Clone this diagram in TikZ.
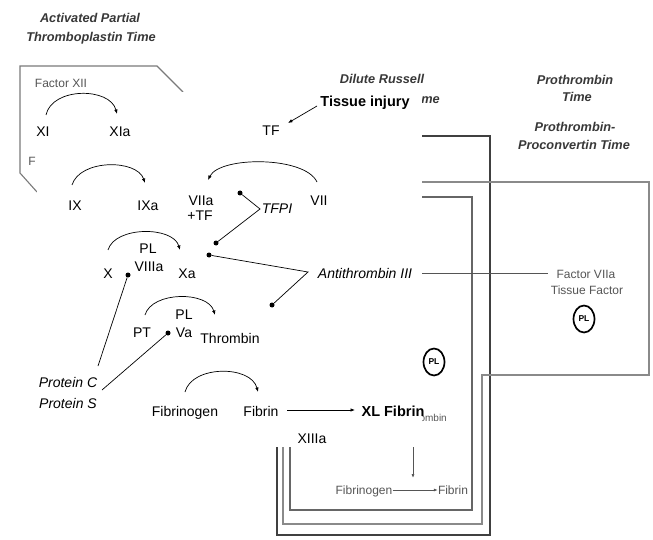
\documentclass[tikz,border=0pt]{standalone}
\usepackage{fontspec}
\setmainfont{Liberation Sans}
\usetikzlibrary{arrows.meta,shapes.geometric}
\definecolor{bgtext}{HTML}{555555}
\definecolor{ttltext}{HTML}{383838}
\definecolor{frameA}{HTML}{7A7A7A}
\definecolor{frameB}{HTML}{8A8A8A}
\definecolor{frameC}{HTML}{666666}
\definecolor{frameD}{HTML}{404040}
\begin{document}
\begin{tikzpicture}[x=1pt,y=-1pt,
  ov/.style={font=\fontsize{14}{16}\selectfont, anchor=base, inner sep=0pt},
  ovi/.style={font=\fontsize{14}{16}\selectfont\itshape, anchor=base, inner sep=0pt},
  ovb/.style={font=\fontsize{14.5}{16}\selectfont\bfseries, anchor=base, inner sep=0pt},
  bg/.style={font=\fontsize{12}{14}\selectfont, text=bgtext, anchor=base, inner sep=0pt},
  ttl/.style={font=\fontsize{12.75}{15}\selectfont\bfseries\itshape, text=ttltext, anchor=base, inner sep=0pt},
  dot/.style={circle, fill=black, inner sep=0pt, minimum size=5pt},
  ln/.style={line width=0.7pt},
  arr/.style={-{Latex[length=4.5pt,width=3.5pt]}, line width=0.7pt},
  bgarr/.style={-{Latex[length=4pt,width=3pt]}, line width=0.7pt, draw=bgtext},
  plring/.style={ellipse, draw=black, line width=1.7pt, minimum width=21pt, minimum height=27pt, inner sep=0pt,
    font=\fontsize{8.5}{9}\selectfont\bfseries}
]
\useasboundingbox (0,0) rectangle (653,540);

% ---------------- background (scanned diagram) ----------------
\node[ttl] (t1a) at (90,22.5) {Activated Partial};
\node[ttl] (t1b) at (91,41.5) {Thromboplastin Time};
\node[ttl] (t2a) at (382,84) {Dilute Russell};
\node[ttl, anchor=base east] (t2b) at (440,104) {Viper Venom Time};
\node[ttl] (t3a) at (575,84.5) {Prothrombin};
\node[ttl] (t3b) at (577,101.5) {Time};
\node[ttl] (t4a) at (575,131.5) {Prothrombin-};
\node[ttl] (t4b) at (574,149.5) {Proconvertin Time};

\node[bg] (f12) at (61,87.5) {Factor XII};
\node[bg] (fF) at (32,166) {F};

% frames
\draw[frameA, line width=1.1pt] (37,192) -- (20,173) -- (20,66) -- (157,66) -- (183,92);
\draw[frameD, line width=2pt] (400,136) -- (490,136) -- (490,535) -- (277,535) -- (277,440);
\draw[frameB, line width=1.2pt] (400,182) -- (649,182) -- (649,375) -- (482,375) -- (482,524) -- (283,524) -- (283,440);
\draw[frameC, line width=1.4pt] (400,197) -- (472,197) -- (472,510) -- (290,510) -- (290,440);

\node[bg] (f7a) at (586,278.5) {Factor VIIa};
\node[bg] (tfac) at (587,294.5) {Tissue Factor};
\coordinate (atEnd) at (548,273);
\draw[line width=0.8pt, draw=bgtext] (400,273) -- (atEnd);
\node[plring] (pl1) at (584,319) {PL};
\node[plring] (pl2) at (434,362) {PL};

\node[font=\fontsize{10}{12}\selectfont, text=bgtext, anchor=base east, inner sep=0pt] (thr2) at (447,421) {Thrombin};
\coordinate (vtop) at (413,440);
\coordinate (vbot) at (413,478);
\draw[bgarr] (vtop) -- (vbot);
\node[bg] (fbg2) at (364,494.5) {Fibrinogen};
\node[bg] (fb2) at (453,494.5) {Fibrin};
\draw[bgarr] (fbg2.east |- 0,490) -- (fb2.west |- 0,490);

% ---------------- overlay (white sheet) ----------------
\fill[white] (37,92) rectangle (422,447);

\node[ovb] (inj) at (365,107) {Tissue injury};
\node[ov] (TF) at (271,136) {TF};
\coordinate (injs) at (317,106);
\coordinate (tfe) at (288,123);
\draw[arr] (injs) -- (tfe);

\node[ov] (XI) at (43,137) {XI};
\node[ov] (XIa) at (120,137) {XIa};
\coordinate (xiS) at (46,115);
\coordinate (xiE) at (117,114);
\draw[arr] (xiS) .. controls (52,87) and (110,87) .. (xiE);

\node[ov] (IX) at (75,211) {IX};
\node[ov] (IXa) at (148,211) {IXa};
\coordinate (ixS) at (72,185);
\coordinate (ixE) at (145,183);
\draw[arr] (ixS) .. controls (80,159) and (137,159) .. (ixE);

\node[ov] (VIIa) at (201,206) {VIIa};
\node[ov] (pTF) at (200,220) {+TF};
\node[ov] (VII) at (319,206) {VII};
\coordinate (viiS) at (317,182);
\coordinate (viiE) at (208,180);
\draw[arr] (viiS) .. controls (305,156) and (220,156) .. (viiE);

\node[ovi] (TFPI) at (277,214) {TFPI};
\node[dot] (dA) at (240,193) {};
\node[dot] (dB) at (216,243) {};
\coordinate (tfpiK) at (260,209);
\draw[ln] (dA) -- (tfpiK) -- (dB);

\node[ov] (PL1) at (148,253) {PL};
\node[ov] (VIIIa) at (149,271) {VIIIa};
\node[ov] (X) at (108,278) {X};
\node[ov] (Xa) at (187,278) {Xa};
\coordinate (xS) at (108,250);
\coordinate (xE) at (180,250);
\draw[arr] (xS) .. controls (115,226) and (173,226) .. (xE);

\node[ovi] (AT) at (365,278) {Antithrombin III};
\node[dot] (dC) at (209,255) {};
\node[dot] (dD) at (272,305) {};
\coordinate (atK) at (308,272);
\draw[ln] (dC) -- (atK) -- (dD);

\node[ov] (PL2) at (184,319) {PL};
\node[ov] (Va) at (184,337) {Va};
\node[ov] (PT) at (142,337) {PT};
\node[ov] (Thr) at (230,343) {Thrombin};
\coordinate (ptS) at (145,315);
\coordinate (ptE) at (215,315);
\draw[arr] (ptS) .. controls (152,291) and (208,291) .. (ptE);

\node[dot] (dE) at (128,275) {};
\node[dot] (dF) at (168,333) {};
\node[ovi] (PC) at (68,387) {Protein C};
\node[ovi] (PS) at (68,408) {Protein S};
\coordinate (pcK) at (98,366);
\coordinate (psK) at (102,390);
\draw[ln] (dE) -- (pcK);
\draw[ln] (dF) -- (psK);

\node[ov] (Fbg) at (185,416) {Fibrinogen};
\node[ov] (Fb) at (261,416) {Fibrin};
\coordinate (fS) at (185,392);
\coordinate (fE) at (258,392);
\draw[arr] (fS) .. controls (192,365) and (251,365) .. (fE);

\node[ovb] (XL) at (393,416) {XL Fibrin};
\coordinate (fbR) at (287,410);
\coordinate (xlL) at (355,410);
\draw[arr] (fbR) -- (xlL);
\node[ov] (XIIIa) at (312,443) {XIIIa};
\end{tikzpicture}
\end{document}
